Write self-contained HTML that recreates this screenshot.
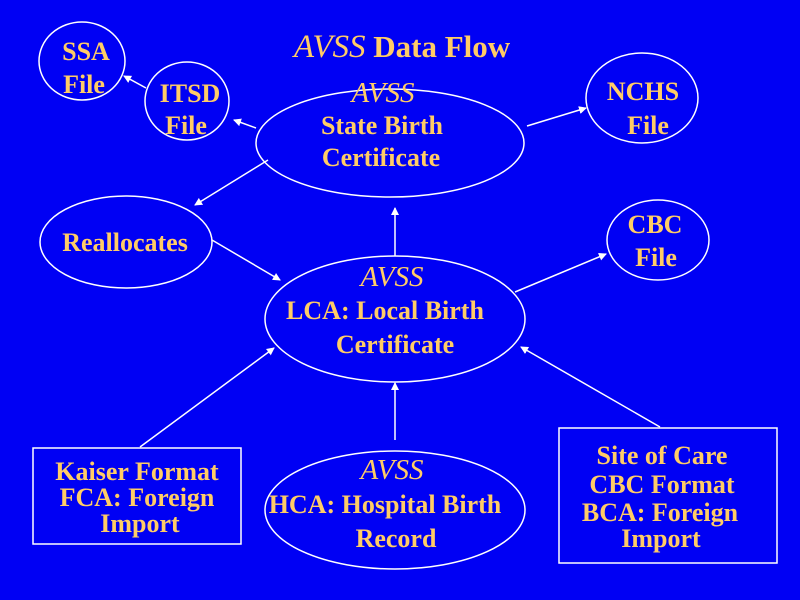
<!DOCTYPE html>
<html><head><style>
html,body{margin:0;padding:0;background:#0000f4;}
svg{display:block}
text{font-family:"Liberation Serif",serif;font-weight:bold;font-size:26px;fill:#ffcc66;text-anchor:middle}
.i{font-style:italic;font-weight:normal;font-size:29px}
</style></head><body>
<svg width="800" height="600" viewBox="0 0 800 600">
<defs><marker id="a" markerWidth="8" markerHeight="8" refX="7" refY="4" orient="auto" markerUnits="userSpaceOnUse"><path d="M0,0 L8,4 L0,8z" fill="#fff"/></marker></defs>
<rect width="800" height="600" fill="#0000f4"/>
<g fill="none" stroke="#fff" stroke-width="1.5">
<ellipse cx="82" cy="61" rx="43" ry="39"/>
<ellipse cx="187" cy="101" rx="42" ry="39"/>
<ellipse cx="390" cy="143" rx="134" ry="54"/>
<ellipse cx="642" cy="98" rx="56" ry="45"/>
<ellipse cx="126" cy="242" rx="86" ry="46"/>
<ellipse cx="658" cy="240" rx="51" ry="40"/>
<ellipse cx="395" cy="319" rx="130" ry="63"/>
<ellipse cx="395" cy="510" rx="130" ry="59"/>
<rect x="33" y="448" width="208" height="96"/>
<rect x="559" y="428" width="218" height="135"/>
<g marker-end="url(#a)">
<line x1="146" y1="88" x2="124" y2="76"/>
<line x1="256" y1="128" x2="234" y2="120"/>
<line x1="527" y1="126" x2="586" y2="108"/>
<line x1="268" y1="160" x2="195" y2="205"/>
<line x1="212" y1="240" x2="280" y2="280"/>
<line x1="395" y1="256" x2="395" y2="208"/>
<line x1="515" y1="292" x2="606" y2="254"/>
<line x1="140" y1="447" x2="274" y2="348"/>
<line x1="395" y1="440" x2="395" y2="383"/>
<line x1="660" y1="427" x2="521" y2="347"/>
</g></g>
<text x="402" y="57" style="font-size:31px"><tspan class="i" style="font-size:33px">AVSS</tspan>  Data Flow</text>
<text x="86" y="60">SSA</text><text x="84" y="93">File</text>
<text x="190" y="102">ITSD</text><text x="186" y="134">File</text>
<text x="383" y="102" class="i">AVSS</text>
<text x="382" y="134">State Birth</text><text x="381" y="166">Certificate</text>
<text x="643" y="100">NCHS</text><text x="648" y="134">File</text>
<text x="125" y="251">Reallocates</text>
<text x="655" y="233">CBC</text><text x="656" y="266">File</text>
<text x="392" y="286" class="i">AVSS</text>
<text x="385" y="319">LCA: Local Birth</text><text x="395" y="353">Certificate</text>
<text x="392" y="479" class="i">AVSS</text>
<text x="385" y="513">HCA: Hospital Birth</text><text x="396" y="547">Record</text>
<text x="137" y="480">Kaiser Format</text><text x="137" y="506">FCA: Foreign</text><text x="140" y="532">Import</text>
<text x="662" y="464">Site of Care</text><text x="662" y="493">CBC Format</text><text x="660" y="521">BCA: Foreign</text><text x="661" y="547">Import</text>
</svg>
</body></html>
